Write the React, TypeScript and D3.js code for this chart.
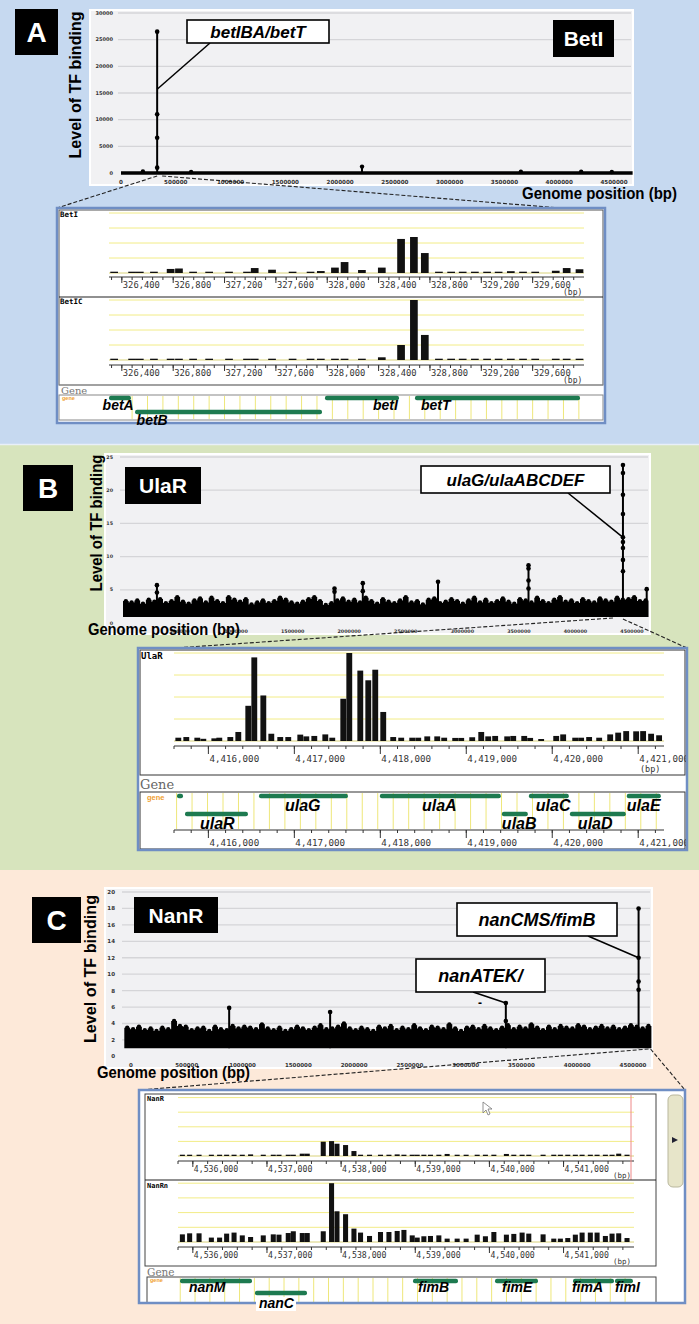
import React from 'react';
import * as d3 from 'd3';

const SANS = "'Liberation Sans', Arial, sans-serif";
const MONO = "'DejaVu Sans Mono', monospace";
const SERIF = "'DejaVu Serif', serif";
const TICK = "'DejaVu Sans', sans-serif";

// ---------- genome-wide overview data ----------
const genomeTicks = [0, 500000, 1000000, 1500000, 2000000, 2500000, 3000000, 3500000, 4000000, 4500000];

// A: BetI
const betYTicks = [0, 5000, 10000, 15000, 20000, 25000, 30000];
const betGenomeEnd = 4670000;
const betBumpPos = [200000, 640000, 2200000, 3650000, 4200000, 4480000];
const betBumpVal = [300, 200, 1200, 250, 250, 200];
const betPeakPos = 330000;
const betPeakVals = [26500, 11000, 6600, 1000];

// B: UlaR
const ulaYTicks = [0, 5, 10, 15, 20, 25];
const ulaFloor = 0.9;
const ulaStep = 50500;
const ulaNoise = [
  3.3, 3.1, 3.4, 2.9, 3.5, 3.2, 3.6, 3.0, 3.3, 3.9, 3.2, 2.9, 3.4, 3.7, 3.1, 3.8, 3.3, 3.0, 3.9, 3.5,
  3.2, 3.6, 2.8, 3.1, 3.4, 3.0, 3.3, 3.8, 3.5, 3.1, 2.9, 3.2, 3.6, 3.9, 3.3, 2.7, 3.0, 3.4, 3.7, 3.2,
  3.5, 3.1, 3.8, 3.3, 2.9, 3.6, 3.2, 3.0, 3.4, 3.9, 3.1, 3.3, 2.8, 3.5, 3.7, 3.0, 3.2, 3.6, 3.3, 2.9,
  3.4, 3.8, 3.1, 3.5, 3.0, 3.3, 3.7, 3.2, 2.9, 3.6, 3.4, 3.1, 3.8, 3.3, 3.0, 3.5, 3.9, 3.2, 3.4, 3.0,
  3.6, 3.3, 3.1, 3.7, 3.4, 3.2, 3.8, 3.5, 3.6, 3.9, 3.3, 3.4,
];
const ulaSpikes = [
  { pos: 300000, pts: [5.7, 4.6] },
  { pos: 1870000, pts: [5.2, 4.7] },
  { pos: 2120000, pts: [6.0, 4.8] },
  { pos: 2785000, pts: [6.2] },
  { pos: 3585000, pts: [8.7, 8.2, 6.4, 5.2] },
  { pos: 4420000, pts: [23.8, 22.6, 19.3, 16.4, 12.9, 12.2, 11.3, 9.5, 7.8] },
  { pos: 4630000, pts: [5.1] },
];

// C: NanR
const nanYTicks = [0, 2, 4, 6, 8, 10, 12, 14, 16, 18, 20];
const nanFloor = 1.0;
const nanStart = -60000;
const nanStep = 52500;
const nanNoise = [
  3.5, 3.3, 3.6, 3.2, 3.4, 3.1, 3.5, 3.3, 4.3, 3.7, 3.6, 3.2, 3.4, 3.5, 3.1, 3.6, 3.3, 3.2, 3.7, 3.4,
  3.6, 3.5, 3.3, 3.9, 3.4, 3.2, 3.5, 3.1, 3.3, 3.6, 3.4, 3.2, 3.5, 3.8, 3.3, 3.4, 3.6, 4.0, 3.4, 3.2,
  3.5, 3.3, 3.1, 3.6, 3.4, 3.7, 3.2, 3.5, 3.3, 3.8, 3.4, 3.2, 3.6, 3.5, 3.3, 3.9, 3.4, 3.1, 3.5, 3.6,
  3.3, 3.7, 3.4, 3.2, 3.5, 3.8, 3.3, 3.6, 3.4, 3.9, 3.5, 3.2, 3.6, 3.3, 3.7, 3.5, 3.4, 3.8, 3.6, 3.3,
  3.5, 3.7, 3.4, 3.6, 3.3, 3.5, 3.8, 3.6, 3.4, 3.7,
];
const nanSpikes = [
  { pos: 880000, pts: [5.9] },
  { pos: 1785000, pts: [5.4] },
  { pos: 3360000, pts: [6.5, 4.3] },
  { pos: 4550000, pts: [18, 12, 9.1, 8.1] },
];

// ---------- zoomed browser views ----------
// A: betIBA / betT region
const betProbes = [
  326310, 326450, 326510, 326620, 326750, 326815, 326925, 327050, 327205, 327345, 327405, 327540,
  327700, 327840, 327920, 328030, 328105, 328240, 328395, 328545, 328645, 328730, 328840, 328935,
  329025, 329120, 329215, 329305, 329400, 329495, 329590, 329750, 329835, 329935,
];
const betIVals = [
  0.08, 0.08, 0.08, 0.08, 0.27, 0.3, 0.08, 0.08, 0.08, 0.08, 0.33, 0.22, 0.08, 0.08, 0.13, 0.36, 0.73,
  0.2, 0.36, 2.27, 2.4, 1.33, 0.08, 0.08, 0.08, 0.08, 0.08, 0.08, 0.12, 0.08, 0.08, 0.15, 0.33, 0.25,
];
const betICVals = [
  0.08, 0.08, 0.08, 0.08, 0.08, 0.08, 0.08, 0.08, 0.08, 0.08, 0.08, 0.08, 0.08, 0.08, 0.08, 0.08, 0.08,
  0.08, 0.18, 1.0, 4.0, 1.67, 0.08, 0.08, 0.08, 0.08, 0.08, 0.08, 0.08, 0.08, 0.08, 0.08, 0.08, 0.08,
];
const betGenes = [
  { name: 'betA', start: 326300, end: 326471, lane: 0, labelAt: 326250 },
  { name: 'betB', start: 326503, end: 327959, lane: 1, labelAt: 326515 },
  { name: 'betI', start: 327982, end: 328559, lane: 0, labelAt: 328356 },
  { name: 'betT', start: 328683, end: 329969, lane: 0, labelAt: 328730 },
];

// B: ulaG / ulaABCDEF region
const ulaProbes = [
  4415616, 4415709, 4415837, 4415907, 4416035, 4416093, 4416221, 4416314, 4416430, 4416500,
  4416605, 4416698, 4416802, 4416895, 4417035, 4417105, 4417198, 4417326, 4417407, 4417535,
  4417605, 4417733, 4417826, 4417907, 4418000, 4418116, 4418209, 4418337, 4418407, 4418512,
  4418628, 4418709, 4418837, 4418907, 4419035, 4419140, 4419221, 4419302, 4419442, 4419512,
  4419640, 4419709, 4419837, 4420012, 4420093, 4420233, 4420302, 4420395, 4420512, 4420640,
  4420733, 4420826, 4420942, 4421023, 4421116, 4421209,
];
const ulaVals = [
  0.15, 0.18, 0.15, 0.1, 0.12, 0.15, 0.18, 0.41, 1.6, 3.8, 2.07, 0.33, 0.18, 0.18, 0.29, 0.21, 0.23,
  0.3, 0.15, 1.92, 4.0, 3.2, 2.76, 3.24, 1.32, 0.18, 0.15, 0.15, 0.15, 0.21, 0.21, 0.15, 0.14, 0.14,
  0.17, 0.41, 0.21, 0.23, 0.21, 0.23, 0.23, 0.14, 0.09, 0.23, 0.3, 0.15, 0.15, 0.18, 0.15, 0.3, 0.38,
  0.45, 0.44, 0.45, 0.33, 0.26,
];
const ulaGenes = [
  { name: '', start: 4415635, end: 4415705, lane: 0, labelAt: 4415635 },
  { name: 'ulaR', start: 4415728, end: 4416460, lane: 1, labelAt: 4415902 },
  { name: 'ulaG', start: 4416588, end: 4417623, lane: 0, labelAt: 4416891 },
  { name: 'ulaA', start: 4417995, end: 4419402, lane: 0, labelAt: 4418484 },
  { name: 'ulaB', start: 4419414, end: 4419716, lane: 1, labelAt: 4419414 },
  { name: 'ulaC', start: 4419728, end: 4420193, lane: 0, labelAt: 4419809 },
  { name: 'ulaD', start: 4420205, end: 4420856, lane: 1, labelAt: 4420298 },
  { name: 'ulaE', start: 4420867, end: 4421263, lane: 0, labelAt: 4420867 },
];

// C: nanCMS / fimB region
const nanProbes = [
  4535825, 4535923, 4536050, 4536216, 4536327, 4536422, 4536522, 4536633, 4536745, 4536916,
  4537051, 4537128, 4537253, 4537321, 4537442, 4537509, 4537725, 4537837, 4537910, 4538026,
  4538139, 4538228, 4538349, 4538497, 4538611, 4538722, 4538813, 4538925, 4538992, 4539082,
  4539171, 4539284, 4539396, 4539531, 4539652, 4539801, 4539912, 4540026, 4540195, 4540295,
  4540407, 4540497, 4540690, 4540834, 4540923, 4541023, 4541125, 4541216, 4541327, 4541418,
  4541530, 4541620, 4541710, 4541822,
];
const nanRVals = [
  0.06, 0.06, 0.06, 0.06, 0.06, 0.06, 0.06, 0.06, 0.11, 0.06, 0.06, 0.06, 0.06, 0.09, 0.16, 0.16,
  0.98, 1.02, 0.84, 0.75, 0.34, 0.06, 0.06, 0.06, 0.06, 0.11, 0.06, 0.06, 0.06, 0.06, 0.06, 0.06,
  0.14, 0.06, 0.06, 0.06, 0.06, 0.06, 0.14, 0.06, 0.06, 0.06, 0.06, 0.06, 0.06, 0.06, 0.06, 0.09,
  0.06, 0.06, 0.06, 0.07, 0.16, 0.09,
];
const nanRnVals = [
  0.52, 0.59, 0.59, 0.3, 0.3, 0.57, 0.64, 0.45, 0.34, 0.45, 0.52, 0.5, 0.61, 0.73, 0.61, 0.61, 0.73,
  4.0, 2.09, 1.89, 0.91, 0.64, 0.41, 0.68, 0.68, 0.75, 0.82, 0.45, 0.3, 0.39, 0.41, 0.45, 0.23, 0.23,
  0.23, 0.5, 0.39, 0.68, 0.5, 0.55, 0.64, 0.57, 0.52, 0.23, 0.23, 0.27, 0.5, 0.64, 0.64, 0.64, 0.41,
  0.57, 0.59, 0.27,
];
const nanGenes = [
  { name: 'nanM', start: 4535827, end: 4536798, lane: 0, labelAt: 4535948 },
  { name: 'nanC', start: 4536838, end: 4537540, lane: 1, labelAt: 4536892 },
  { name: 'fimB', start: 4538969, end: 4539576, lane: 0, labelAt: 4539037 },
  { name: 'fimE', start: 4540075, end: 4540655, lane: 0, labelAt: 4540170 },
  { name: 'fimA', start: 4541127, end: 4541680, lane: 0, labelAt: 4541113 },
  { name: 'fimI', start: 4541693, end: 4541936, lane: 0, labelAt: 4541693 },
];

const fmt = d3.format(',');

function GenomeFrame({ x, y, bg, yTicks, yTickX, yFs, xTickY, xFs, gridX0 }: any) {
  const [bx, by, bw, bh] = bg;
  return (
    <g>
      <rect x={bx} y={by} width={bw} height={bh} fill="#f1f1f3" stroke="#ffffff" strokeWidth={2} />
      {yTicks.slice(1).map((t: number) => (
        <line key={t} x1={gridX0} x2={bx + bw - 2} y1={y(t)} y2={y(t)} stroke="#d5d5d8" strokeWidth={1.3} />
      ))}
      {yTicks.map((t: number) => (
        <text key={'y' + t} x={yTickX} y={y(t)} dy="0.35em" textAnchor="end" fontFamily={TICK}
          fontWeight="bold" fontSize={yFs} fill="#333">{t}</text>
      ))}
      {genomeTicks.map((t) => (
        <text key={'x' + t} x={x(t)} y={xTickY} textAnchor="middle" fontFamily={TICK}
          fontWeight="bold" fontSize={xFs} fill="#333">{t}</text>
      ))}
    </g>
  );
}

function Noise({ x, y, start, step, vals, floor }: any) {
  const pts = vals.map((v: number, i: number) => [start + i * step, v]);
  pts.push([start + vals.length * step, vals[vals.length - 1]]);
  const area = d3.area<number[]>()
    .x((d) => x(d[0]))
    .y0(y(floor))
    .y1((d) => y(d[1]))
    .curve(d3.curveStepAfter);
  return (
    <g>
      <path d={area(pts) || ''} fill="#000" />
      {vals.map((v: number, i: number) => (
        <circle key={i} cx={x(start + i * step + step / 2)} cy={y(v)} r={2.2} fill="#000" />
      ))}
    </g>
  );
}

function Spike({ x, y, pos, pts, floor }: any) {
  const top = d3.max(pts as number[]) as number;
  return (
    <g>
      <line x1={x(pos)} x2={x(pos)} y1={y(floor)} y2={y(top)} stroke="#000" strokeWidth={2} />
      {pts.map((v: number, i: number) => (
        <circle key={i} cx={x(pos)} cy={y(v)} r={2.3} fill="#000" />
      ))}
    </g>
  );
}

function LabelBox({ x, y, w, h, text, fs }: any) {
  return (
    <g>
      <rect x={x} y={y} width={w} height={h} fill="#000" />
      <text x={x + w / 2} y={y + h / 2} dy="0.36em" textAnchor="middle" fill="#fff" fontWeight="bold"
        fontSize={fs} fontFamily={SANS}>{text}</text>
    </g>
  );
}

function Callout({ x, y, w, h, text, fs, from, to }: any) {
  return (
    <g>
      <line x1={from[0]} y1={from[1]} x2={to[0]} y2={to[1]} stroke="#000" strokeWidth={1.5} />
      <rect x={x} y={y} width={w} height={h} fill="#fff" stroke="#000" strokeWidth={1.6} />
      <text x={x + w / 2} y={y + h / 2} dy="0.36em" textAnchor="middle" fontStyle="italic"
        fontWeight="bold" fontSize={fs} fontFamily={SANS}>{text}</text>
    </g>
  );
}

function YTitle({ cx, cy, len }: any) {
  return (
    <text transform={`translate(${cx},${cy}) rotate(-90)`} textAnchor="middle" dy="0.36em"
      fontWeight="bold" fontSize={17} fontFamily={SANS} textLength={len} lengthAdjust="spacingAndGlyphs">
      Level of TF binding
    </text>
  );
}

function XTitle({ x, y, len }: any) {
  return (
    <text x={x} y={y} fontWeight="bold" fontSize={16} fontFamily={SANS} textLength={len}
      lengthAdjust="spacingAndGlyphs">Genome position (bp)</text>
  );
}

function BpAxis({ x, y, major, minor, fs, dy, majorLen = 6 }: any) {
  const [r0, r1] = x.range();
  return (
    <g stroke="#333" strokeWidth={1}>
      <line x1={r0} x2={r1} y1={y} y2={y} />
      {minor.map((t: number) => <line key={'m' + t} x1={x(t)} x2={x(t)} y1={y} y2={y + 3} />)}
      {major.map((t: number) => <line key={'M' + t} x1={x(t)} x2={x(t)} y1={y} y2={y + majorLen} />)}
      {major.map((t: number) => (
        <text key={'t' + t} x={x(t) + 1} y={y + dy} stroke="none" fill="#333" fontFamily={MONO}
          fontSize={fs}>{fmt(t)}</text>
      ))}
    </g>
  );
}

function Bars({ x, base, unit, probes, vals, width }: any) {
  const [r0, r1] = x.range();
  return (
    <g>
      {[1, 2, 3, 4].map((k) => (
        <line key={k} x1={r0} x2={r1} y1={base - k * unit} y2={base - k * unit} stroke="#f2ec86" strokeWidth={1} />
      ))}
      <line x1={r0} x2={r1} y1={base} y2={base} stroke="#d9d27a" strokeWidth={1} />
      {probes.map((p: number, i: number) => {
        const h = Math.max(vals[i] * unit, 1.3);
        return <rect key={i} x={x(p)} y={base - h} width={x(p + width) - x(p)} height={h} fill="#111" />;
      })}
    </g>
  );
}

function Genes({ x, genes, laneY, gridStart, gridStep, gridY }: any) {
  const [r0, r1] = x.range();
  const grid = d3.range(gridStart, x.domain()[1], gridStep);
  return (
    <g>
      {grid.map((t: number) => (
        <line key={t} x1={x(t)} x2={x(t)} y1={gridY[0]} y2={gridY[1]} stroke="#eee77a" strokeWidth={1} />
      ))}
      {genes.map((g: any) => (
        <rect key={g.name + g.start} x={Math.max(x(g.start), r0)} y={laneY[g.lane] - 2.3}
          width={Math.min(x(g.end), r1) - Math.max(x(g.start), r0)} height={4.6} rx={2} fill="#1d7a50" />
      ))}
    </g>
  );
}

function GeneLabels({ x, genes, labelY, fs }: any) {
  return (
    <g>
      {genes.filter((g: any) => g.name).map((g: any) => (
        <text key={'l' + g.name} x={x(g.labelAt)} y={labelY[g.lane]} fontStyle="italic" fontWeight="bold"
          fontSize={fs} fontFamily={SANS}>{g.name}</text>
      ))}
    </g>
  );
}

export default function App() {
  // overview scales
  const xA = d3.scaleLinear().domain([0, 4500000]).range([121, 614]);
  const yA = d3.scaleLinear().domain([0, 30000]).range([173, 13]);
  const xB = d3.scaleLinear().domain([0, 4500000]).range([123, 632]);
  const yB = d3.scaleLinear().domain([0, 25]).range([623, 457]);
  const xC = d3.scaleLinear().domain([0, 4500000]).range([131, 633]);
  const yC = d3.scaleLinear().domain([0, 20]).range([1056.4, 892]);

  // zoom scales
  const zA = d3.scaleLinear().domain([326300, 330000]).range([109, 584]);
  const zB = d3.scaleLinear().domain([4415600, 4421300]).range([174, 664]);
  const zC = d3.scaleLinear().domain([4535800, 4541950]).range([178, 634]);

  const aMajor = d3.range(326400, 330000, 400);
  const aMinor = d3.range(326320, 330000, 80);
  const bMajor = d3.range(4416000, 4421001, 1000);
  const bMinor = d3.range(4415600, 4421300, 200);
  const cMajor = d3.range(4536000, 4541001, 1000);
  const cMinor = d3.range(4535800, 4541950, 200);

  return (
    <svg width={699} height={1324} viewBox="0 0 699 1324"
      style={{ position: 'absolute', left: 0, top: 0, display: 'block' }} fontFamily={SANS}>
      <defs>
        <clipPath id="clipA"><rect x={57} y={208} width={548} height={215} /></clipPath>
        <clipPath id="clipB"><rect x={138} y={648} width={549} height={202} /></clipPath>
        <clipPath id="clipC"><rect x={139} y={1090} width={546} height={213} /></clipPath>
      </defs>
      <rect x={0} y={0} width={699} height={445} fill="#c6d9f0" />
      <rect x={0} y={445} width={699} height={425} fill="#d7e4bd" />
      <rect x={0} y={870} width={699} height={454} fill="#fde9d9" />
      <line x1={0} x2={699} y1={444.5} y2={444.5} stroke="#e8eff8" strokeWidth={1.5} />

      {/* ---------------- Panel A ---------------- */}
      <GenomeFrame x={xA} y={yA} bg={[90, 10, 543, 175]} yTicks={betYTicks} yTickX={113} yFs={5}
        xTickY={184} xFs={5.6} gridX0={118} />
      <line x1={xA(0)} x2={xA(betGenomeEnd)} y1={yA(0)} y2={yA(0)} stroke="#000" strokeWidth={3.5} />
      {betBumpPos.map((p, i) => (
        <g key={p}>
          <line x1={xA(p)} x2={xA(p)} y1={yA(0)} y2={yA(betBumpVal[i])} stroke="#000" strokeWidth={2} />
          <circle cx={xA(p)} cy={yA(betBumpVal[i])} r={2.2} fill="#000" />
        </g>
      ))}
      <Spike x={xA} y={yA} pos={betPeakPos} pts={betPeakVals} floor={0} />
      <YTitle cx={75} cy={85} len={147} />
      <XTitle x={522} y={199} len={155} />
      <LabelBox x={15} y={9} w={43} h={46} text="A" fs={28} />
      <LabelBox x={553} y={20} w={61} h={37} text="BetI" fs={21} />
      <Callout x={187} y={20} w={142} h={23} text="betIBA/betT" fs={17}
        from={[210, 43]} to={[xA(betPeakPos), yA(15700)]} />
      <g stroke="#222" strokeWidth={1.1} strokeDasharray="4,2">
        <line x1={xA(betPeakPos)} y1={176} x2={57} y2={208} />
        <line x1={xA(betPeakPos) + 5} y1={176} x2={573} y2={209} />
      </g>

      {/* A inset */}
      <rect x={57} y={208} width={548} height={215} fill="#fff" />
      <g clipPath="url(#clipA)">
        <rect x={59} y={210} width={544} height={175} fill="none" stroke="#555" strokeWidth={1} />
        <Bars x={zA} base={273} unit={15} probes={betProbes} vals={betIVals} width={60} />
        <BpAxis x={zA} y={277} major={aMajor} minor={aMinor} fs={8.8} dy={11} />
        <text x={563} y={295} fontFamily={MONO} fontSize={8} fill="#333">(bp)</text>
        <text x={60} y={217} fontFamily={MONO} fontWeight="bold" fontSize={7.5}>BetI</text>
        <line x1={59} x2={603} y1={297} y2={297} stroke="#222" strokeWidth={1.2} />
        <Bars x={zA} base={360} unit={15} probes={betProbes} vals={betICVals} width={60} />
        <BpAxis x={zA} y={365} major={aMajor} minor={aMinor} fs={8.8} dy={11} />
        <text x={563} y={383} fontFamily={MONO} fontSize={8} fill="#333">(bp)</text>
        <text x={60} y={304} fontFamily={MONO} fontWeight="bold" fontSize={7.5}>BetIC</text>
        <line x1={59} x2={603} y1={385} y2={385} stroke="#999" strokeWidth={1} />
        <text x={61} y={394} fontFamily={SERIF} fontSize={10} fill="#777">Gene</text>
        <rect x={59} y={395} width={544} height={25} fill="#fff" stroke="#888" strokeWidth={1} />
        <text x={62} y={400} fontFamily={SANS} fontWeight="bold" fontSize={5.5} fill="#f0a030">gene</text>
        <Genes x={zA} genes={betGenes} laneY={[398, 412]} gridStart={326480} gridStep={120} gridY={[396, 419]} />
      </g>
      <rect x={57} y={208} width={548} height={215} fill="none" stroke="#6f8ec4" strokeWidth={2.5} />
      <GeneLabels x={zA} genes={betGenes} labelY={[410, 425]} fs={14} />

      {/* ---------------- Panel B ---------------- */}
      <GenomeFrame x={xB} y={yB} bg={[105, 454, 545, 180]} yTicks={ulaYTicks} yTickX={113} yFs={4.8}
        xTickY={633} xFs={4.8} gridX0={120} />
      <Noise x={xB} y={yB} start={0} step={ulaStep} vals={ulaNoise} floor={ulaFloor} />
      {ulaSpikes.map((s) => (
        <Spike key={s.pos} x={xB} y={yB} pos={s.pos} pts={s.pts} floor={ulaFloor} />
      ))}
      <YTitle cx={96} cy={523} len={137} />
      <XTitle x={88} y={635} len={152} />
      <LabelBox x={23} y={465} w={50} h={46} text="B" fs={28} />
      <LabelBox x={125} y={467} w={76} h={37} text="UlaR" fs={21} />
      <Callout x={421} y={466} w={189} h={27} text="ulaG/ulaABCDEF" fs={17}
        from={[568, 493]} to={[xB(4420000), yB(12.9)]} />
      <g stroke="#222" strokeWidth={1.1} strokeDasharray="4,2">
        <line x1={xB(4420000) - 10} y1={618} x2={175} y2={648} />
        <line x1={xB(4420000)} y1={619} x2={687} y2={648} />
      </g>

      {/* B inset */}
      <rect x={138} y={648} width={549} height={202} fill="#fff" />
      <g clipPath="url(#clipB)">
        <rect x={140} y={650} width={545} height={125} fill="none" stroke="#333" strokeWidth={1} />
        <Bars x={zB} base={741} unit={22} probes={ulaProbes} vals={ulaVals} width={68} />
        <BpAxis x={zB} y={746} major={bMajor} minor={bMinor} fs={9.2} dy={16} majorLen={8} />
        <text x={640} y={772} fontFamily={MONO} fontSize={8.5} fill="#333">(bp)</text>
        <text x={141} y={659} fontFamily={MONO} fontWeight="bold" fontSize={9}>UlaR</text>
        <text x={140} y={789} fontFamily={SERIF} fontSize={13} fill="#666">Gene</text>
        <rect x={140} y={792} width={545} height={57} fill="#fff" stroke="#333" strokeWidth={1} />
        <text x={147} y={800} fontFamily={SANS} fontWeight="bold" fontSize={7.5} fill="#f0a030">gene</text>
        <Genes x={zB} genes={ulaGenes} laneY={[796, 814]} gridStart={4415630} gridStep={180} gridY={[793, 829]} />
        <GeneLabels x={zB} genes={ulaGenes} labelY={[811, 829]} fs={16} />
        <BpAxis x={zB} y={830} major={bMajor} minor={bMinor} fs={9.2} dy={16} majorLen={8} />
      </g>
      <rect x={138} y={648} width={549} height={202} fill="none" stroke="#6f8ec4" strokeWidth={2.5} />

      {/* ---------------- Panel C ---------------- */}
      <GenomeFrame x={xC} y={yC} bg={[105, 888, 547, 180]} yTicks={nanYTicks} yTickX={115} yFs={5.5}
        xTickY={1067} xFs={5.5} gridX0={122} />
      <Noise x={xC} y={yC} start={nanStart} step={nanStep} vals={nanNoise} floor={nanFloor} />
      {nanSpikes.map((s) => (
        <Spike key={s.pos} x={xC} y={yC} pos={s.pos} pts={s.pts} floor={nanFloor} />
      ))}
      <YTitle cx={90} cy={969} len={148} />
      <XTitle x={97} y={1078} len={153} />
      <LabelBox x={32} y={897} w={49} h={46} text="C" fs={28} />
      <LabelBox x={134} y={897} w={84} h={36} text="NanR" fs={21} />
      <Callout x={457} y={903} w={160} h={33} text="nanCMS/fimB" fs={18}
        from={[588, 936]} to={[xC(4550000), yC(12)]} />
      <Callout x={416} y={959} w={129} h={33} text="nanATEK/" fs={18}
        from={[473, 992]} to={[xC(3360000), yC(6.5)]} />
      <text x={478} y={1007} fontWeight="bold" fontSize={12} fontFamily={SANS}>-</text>
      <g stroke="#222" strokeWidth={1.1} strokeDasharray="4,2">
        <line x1={xC(4550000) + 10} y1={1049} x2={140} y2={1090} />
        <line x1={xC(4550000) + 12} y1={1049} x2={685} y2={1090} />
      </g>

      {/* C inset */}
      <rect x={139} y={1090} width={546} height={213} fill="#fff" />
      <g clipPath="url(#clipC)">
        <rect x={145} y={1094} width={511} height={172} fill="none" stroke="#444" strokeWidth={1} />
        <Bars x={zC} base={1156} unit={14.6} probes={nanProbes} vals={nanRVals} width={68} />
        <BpAxis x={zC} y={1161} major={cMajor} minor={cMinor} fs={8.2} dy={11} />
        <text x={613} y={1178} fontFamily={MONO} fontSize={7.5} fill="#333">(bp)</text>
        <text x={147} y={1101} fontFamily={MONO} fontWeight="bold" fontSize={7}>NanR</text>
        <line x1={631} x2={631} y1={1095} y2={1180} stroke="#e88" strokeWidth={1} />
        <line x1={145} x2={656} y1={1180} y2={1180} stroke="#222" strokeWidth={1.2} />
        <Bars x={zC} base={1242} unit={14.7} probes={nanProbes} vals={nanRnVals} width={68} />
        <BpAxis x={zC} y={1247} major={cMajor} minor={cMinor} fs={8.2} dy={11} />
        <text x={613} y={1264} fontFamily={MONO} fontSize={7.5} fill="#333">(bp)</text>
        <text x={147} y={1188} fontFamily={MONO} fontWeight="bold" fontSize={7}>NanRn</text>
        <text x={147} y={1276} fontFamily={SERIF} fontSize={10.5} fill="#777">Gene</text>
        <rect x={147} y={1277} width={509} height={26} fill="#fff" stroke="#444" strokeWidth={1} />
        <text x={150} y={1282} fontFamily={SANS} fontWeight="bold" fontSize={5.5} fill="#f0a030">gene</text>
        <Genes x={zC} genes={nanGenes} laneY={[1281, 1293]} gridStart={4535830} gridStep={200} gridY={[1278, 1302]} />
        <rect x={668} y={1095} width={15} height={92} rx={5} fill="#e7e5c9" stroke="#b9b79d" />
        <polygon points="672,1137 678,1140 672,1143" fill="#223" />
        <polygon points="483,1102 483,1113 486,1110 488,1115 490,1114 488,1109 492,1109"
          fill="#fff" stroke="#777" strokeWidth={0.8} />
      </g>
      <rect x={139} y={1090} width={546} height={213} fill="none" stroke="#6f8ec4" strokeWidth={2.5} />
      <rect x={256} y={1297} width={40} height={14} fill="#fff" />
      <GeneLabels x={zC} genes={nanGenes} labelY={[1292, 1308]} fs={14} />
    </svg>
  );
}
